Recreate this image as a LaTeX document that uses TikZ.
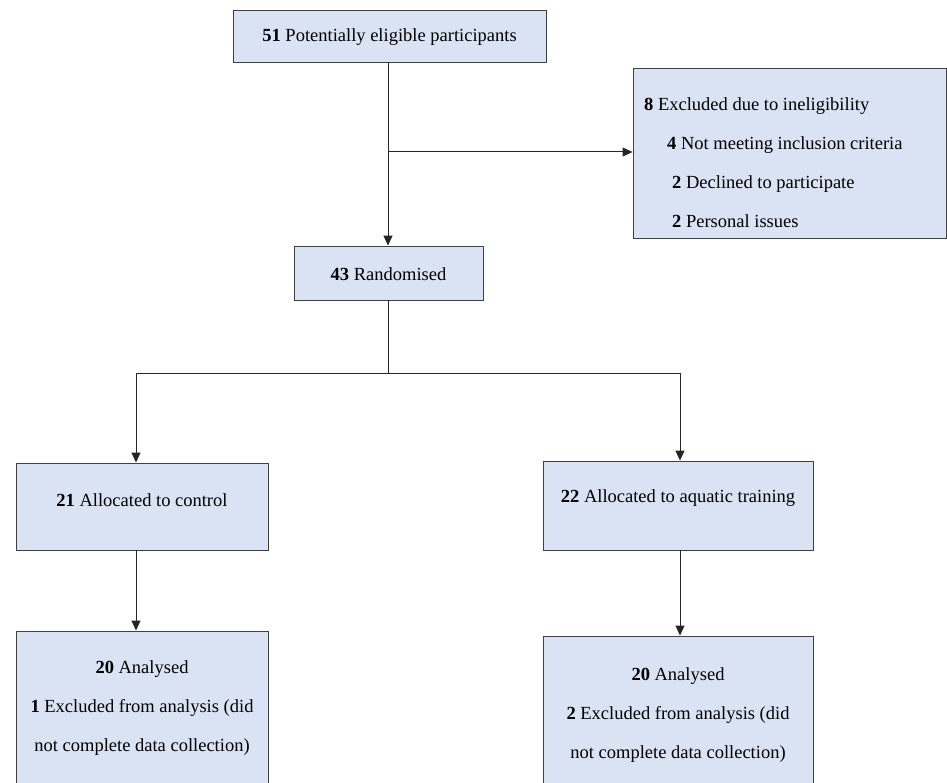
\documentclass[tikz,border=0pt]{standalone}
\usepackage{fontspec}
\setmainfont{Liberation Serif}
\usetikzlibrary{arrows.meta}
\definecolor{boxfill}{HTML}{DAE3F3}
\definecolor{boxline}{HTML}{404040}
\begin{document}
\begin{tikzpicture}[x=1pt,y=-1pt,
  box/.style={draw=boxline,fill=boxfill,line width=0.9pt,inner sep=0pt},
  txt/.style={inner sep=0pt,font=\fontsize{18.5}{39}\selectfont},
  conn/.style={line width=1pt,draw=black!85},
  arr/.style={conn,-{Triangle[length=10pt,width=9pt]}}]
\useasboundingbox (0,0) rectangle (947,783);
\fill[white] (0,0) rectangle (947,783);
% boxes
\node[box,minimum width=313pt,minimum height=52pt] (top) at (389.5,36) {};
\node[txt] (toptxt) at (389.5,37) {\textbf{51} Potentially eligible participants};
\node[box,minimum width=313pt,minimum height=170pt] (excl) at (789.5,153) {};
\node[txt,anchor=base west,align=left] (excltxt) at (644,228) {\textbf{8} Excluded due to ineligibility\\
\hspace*{23pt}\textbf{4} Not meeting inclusion criteria\\
\hspace*{28pt}\textbf{2} Declined to participate\\
\hspace*{28pt}\textbf{2} Personal issues};
\node[box,minimum width=189pt,minimum height=54pt] (rand) at (388.5,273) {};
\node[txt] (randtxt) at (388.5,274) {\textbf{43} Randomised};
\node[box,minimum width=252pt,minimum height=87pt] (ctrl) at (142,506.5) {};
\node[txt] (ctrltxt) at (142,500) {\textbf{21} Allocated to control};
\node[box,minimum width=270pt,minimum height=89pt] (aqua) at (678,505.5) {};
\node[txt] (aquatxt) at (678,498) {\textbf{22} Allocated to aquatic training};
\node[box,minimum width=252pt,minimum height=180pt] (ana1) at (142,721) {};
\node[txt,align=center,anchor=base] (ana1txt) at (142,751) {\textbf{20} Analysed\\\textbf{1} Excluded from analysis (did\\not complete data collection)};
\node[box,minimum width=270pt,minimum height=180pt] (ana2) at (678,726) {};
\node[txt,align=center,anchor=base] (ana2txt) at (678,758) {\textbf{20} Analysed\\\textbf{2} Excluded from analysis (did\\not complete data collection)};
% connectors
\coordinate (b1) at (388,152);
\coordinate (b2) at (388,373);
\coordinate (bl) at (136,373);
\coordinate (br) at (680,373);
\draw[arr] (top.south -| b1) -- (rand.north -| b1);
\draw[arr] (b1) -- (b1 -| excl.west);
\draw[conn] (rand.south -| b2) -- (b2);
\draw[conn] (bl) -- (br);
\draw[arr] (bl) -- (ctrl.north -| bl);
\draw[arr] (br) -- (aqua.north -| br);
\draw[arr] (ctrl.south -| bl) -- (ana1.north -| bl);
\draw[arr] (aqua.south -| br) -- (ana2.north -| br);
\end{tikzpicture}
\end{document}
